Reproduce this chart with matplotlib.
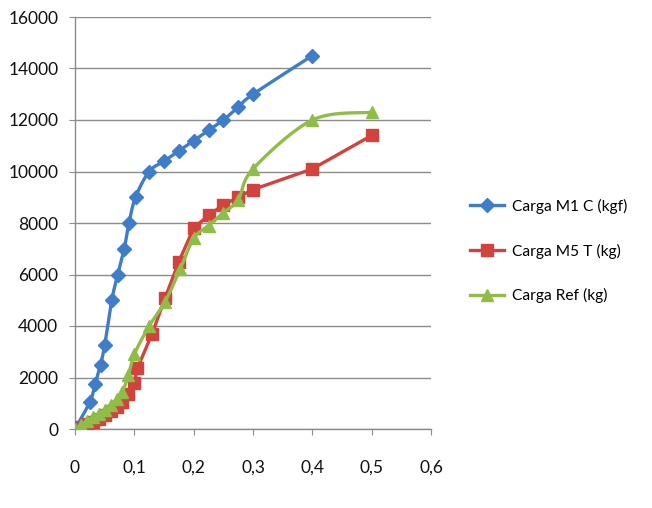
import numpy as np
import matplotlib
matplotlib.use("Agg")
import matplotlib.pyplot as plt
from matplotlib.lines import Line2D

# ---- data ----
m1_x = [0, 0.025, 0.034, 0.043, 0.05, 0.062, 0.072, 0.083, 0.091, 0.102,
        0.125, 0.15, 0.175, 0.2, 0.225, 0.25, 0.275, 0.3, 0.4]
m1_y = [0, 1050, 1750, 2500, 3250, 5000, 6000, 7000, 8000, 9000,
        10000, 10400, 10800, 11200, 11600, 12000, 12500, 13000, 14500]

m5_x = [0, 0.01, 0.02, 0.03, 0.04, 0.05, 0.06, 0.07, 0.08, 0.09, 0.1, 0.105,
        0.13, 0.152, 0.175, 0.2, 0.225, 0.25, 0.275, 0.3, 0.4, 0.5]
m5_y = [0, 80, 180, 280, 400, 530, 680, 850, 1050, 1350, 1800, 2350,
        3700, 5100, 6500, 7800, 8300, 8700, 9000, 9300, 10100, 11400]

ref_x = [0, 0.01, 0.02, 0.03, 0.04, 0.05, 0.06, 0.07, 0.08, 0.09, 0.1,
         0.125, 0.152, 0.177, 0.2, 0.225, 0.25, 0.275, 0.3, 0.4, 0.5]
ref_y = [0, 150, 300, 450, 600, 750, 950, 1150, 1450, 2100, 2900,
         4000, 4950, 6200, 7400, 7900, 8400, 8900, 10100, 12000, 12300]

labels = ["Carga M1 C (kgf)", "Carga M5 T (kg)", "Carga Ref (kg)"]
x_ticks = [0, 0.1, 0.2, 0.3, 0.4, 0.5, 0.6]
x_ticklabels = ["0", "0,1", "0,2", "0,3", "0,4", "0,5", "0,6"]
y_ticks = [0, 2000, 4000, 6000, 8000, 10000, 12000, 14000, 16000]

c_blue = "#3F7DC8"
c_red = "#D2433E"
c_green = "#8FBD47"

plt.rcParams['font.family'] = ['Lato', 'DejaVu Sans']

fig = plt.figure(figsize=(6.52, 5.08), dpi=100)
ax = fig.add_axes([75/652, 1-429/508, (431-75)/652, (429-17)/508])
ax.set_xlim(0, 0.6)
ax.set_ylim(0, 16000)

W = (431-75); H = (429-17)


def smooth(xs, ys, n=20):
    # Catmull-Rom style smoothing in display-proportional space (like Excel)
    p = np.column_stack([np.asarray(xs)/0.6*W, np.asarray(ys)/16000*H])
    out = [p[0]]
    for i in range(len(p)-1):
        p0 = p[i-1] if i > 0 else p[i]
        p1 = p[i]; p2 = p[i+1]
        p3 = p[i+2] if i+2 < len(p) else p[i+1]
        c1 = p1 + (p2-p0)/6
        c2 = p2 - (p3-p1)/6
        t = np.linspace(0, 1, n)[1:, None]
        seg = (1-t)**3*p1 + 3*(1-t)**2*t*c1 + 3*(1-t)*t**2*c2 + t**3*p2
        out.extend(seg)
    out = np.array(out)
    return out[:, 0]*0.6/W, out[:, 1]*16000/H


ax.grid(axis='y', color='#8C8C8C', linewidth=1)
ax.set_axisbelow(True)

sx, sy = smooth(m1_x, m1_y)
ax.plot(sx, sy, color=c_blue, linewidth=2.4, zorder=3)
ax.plot(m1_x, m1_y, linestyle='none', marker='D', markersize=7.5,
        color=c_blue, zorder=4)

ax.plot(m5_x, m5_y, color=c_red, linewidth=2.4, marker='s',
        markersize=8, zorder=3)

gx, gy = smooth(ref_x, ref_y)
ax.plot(gx, gy, color=c_green, linewidth=2.4, zorder=5)
ax.plot(ref_x, ref_y, linestyle='none', marker='^', markersize=9,
        color=c_green, zorder=5)

ax.set_xticks(x_ticks)
ax.set_xticklabels(x_ticklabels)
ax.set_yticks(y_ticks)
ax.tick_params(axis='both', labelsize=12.5, color='#8C8C8C', length=4,
               direction='out', labelcolor='#111111')
ax.tick_params(axis='x', pad=18)
ax.tick_params(axis='y', pad=8)
for s in ['top', 'right']:
    ax.spines[s].set_visible(False)
for s in ['left', 'bottom']:
    ax.spines[s].set_color('#8C8C8C')
    ax.spines[s].set_linewidth(1)

handles = [
    Line2D([], [], color=c_blue, linewidth=2.4, marker='D', markersize=7.5),
    Line2D([], [], color=c_red, linewidth=2.4, marker='s', markersize=8),
    Line2D([], [], color=c_green, linewidth=2.4, marker='^', markersize=9),
]
fig.legend(handles, labels, loc='center left',
           bbox_to_anchor=(456/652, 1-251/508), frameon=False,
           prop={'family': ['Lato'], 'size': 11.2},
           handlelength=2.2, handletextpad=0.5,
           labelspacing=1.9)

fig.savefig("out.png", dpi=100, facecolor='white')
